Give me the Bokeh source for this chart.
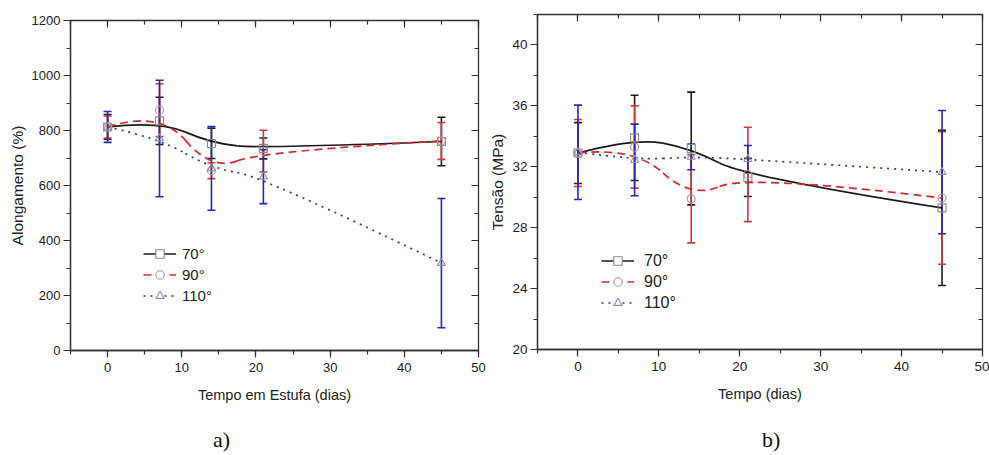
from bokeh.plotting import figure
from bokeh.layouts import row, column
from bokeh.models import (Range1d, SingleIntervalTicker, LinearAxis, Whisker, TeeHead,
                          ColumnDataSource, Legend, LegendItem, Div, CustomJSTickFormatter)
from bokeh.embed import file_html
from bokeh.resources import INLINE

# ---------------- data ----------------
dias = [0, 7, 14, 21, 45]

# a) Alongamento (%)
along_70 = [813, 835, 753, 735, 760]
along_70_err = [45, 86, 55, 38, 88]
along_90 = [813, 874, 654, 725, 762]
along_90_err = [40, 96, 29, 76, 67]
along_110 = [813, 771, 662, 632, 318]
along_110_err = [56, 212, 152, 98, 235]

# b) Tensão (MPa)
tens_70 = [32.9, 33.9, 33.2, 31.3, 29.3]
tens_70_err = [2.0, 2.8, 3.7, 1.25, 5.1]
tens_90 = [32.9, 33.3, 29.9, 31.5, 29.95]
tens_90_err = [2.2, 2.7, 2.9, 3.1, 4.35]
tens_110 = [32.95, 32.45, 32.65, 32.5, 31.65]
tens_110_err = [3.1, 2.35, 0.85, 0.9, 4.05]

labels = ["70°", "90°", "110°"]
panel_tags = ["a)", "b)"]

FONT = "Liberation Sans"
TXT = "#222222"

styles = [
    dict(line_color="#1a1a1a", line_dash="solid", err="#1e1e1e", marker="square", mcolor="#8a8a8a"),
    dict(line_color="#d42a2a", line_dash="8 5", err="#d23c3c", marker="circle", mcolor="#c48c8c"),
    dict(line_color="#3a3a7a", line_dash="2 5", err="#2828b4", marker="triangle", mcolor="#8c8cb4"),
]


def bspline_segments(xs, ys):
    # quadratic B-spline (Origin-like smoothing): bezier segments between midpoints
    n = len(xs)
    mx = [(xs[i] + xs[i + 1]) / 2 for i in range(1, n - 2)]
    my = [(ys[i] + ys[i + 1]) / 2 for i in range(1, n - 2)]
    x0 = [xs[0]] + mx
    y0 = [ys[0]] + my
    x1 = mx + [xs[-1]]
    y1 = my + [ys[-1]]
    cx = xs[1:-1]
    cy = ys[1:-1]
    return dict(x0=x0, y0=y0, x1=x1, y1=y1, cx=cx, cy=cy)


def make_panel(width, yr, yint, series, xlabel, ylabel, tick_size, min_left, min_right, min_top,
               min_bottom, legend_loc, legend_size, glyph_h, label_standoff):
    p = figure(width=width, height=420, x_range=Range1d(-5, 50), y_range=Range1d(*yr),
               output_backend="svg", toolbar_location=None,
               min_border_left=min_left, min_border_right=min_right,
               min_border_top=min_top, min_border_bottom=min_bottom)
    p.grid.visible = False
    p.outline_line_color = "#333333"
    p.outline_line_width = 1.3
    p.background_fill_color = "white"

    xt = SingleIntervalTicker(interval=10, num_minor_ticks=2)
    yt = SingleIntervalTicker(interval=yint, num_minor_ticks=2)

    xa = p.xaxis[0]
    xa.ticker = xt
    ya = p.yaxis[0]
    ya.ticker = yt
    for ax in (xa, ya):
        ax.axis_line_color = "#333333"
        ax.axis_line_width = 1.3
        ax.major_tick_line_color = "#333333"
        ax.minor_tick_line_color = "#333333"
        ax.major_tick_line_width = 1.2
        ax.minor_tick_line_width = 1.2
        ax.major_tick_out = 7
        ax.major_tick_in = 0
        ax.minor_tick_out = 4
        ax.minor_tick_in = 0
        ax.major_label_text_font = FONT
        ax.major_label_text_font_size = tick_size
        ax.major_label_text_color = TXT
        ax.axis_label_text_font = FONT
        ax.axis_label_text_font_style = "normal"
        ax.axis_label_text_color = TXT
    xa.axis_label_text_font_size = "14.5px"
    ya.axis_label_text_font_size = "15.5px"
    xa.major_label_standoff = 5
    ya.major_label_standoff = 3
    xa.axis_label = xlabel
    ya.axis_label = ylabel
    xa.axis_label_standoff = 12
    ya.axis_label_standoff = 3

    for side, tk in (("above", xt), ("right", yt)):
        ax = LinearAxis(ticker=tk, formatter=CustomJSTickFormatter(code="return ''"))
        ax.major_label_text_font_size = "1px"
        ax.major_label_standoff = 0
        ax.axis_line_color = None
        ax.major_tick_line_color = "#333333"
        ax.minor_tick_line_color = "#333333"
        ax.major_tick_line_width = 1.2
        ax.minor_tick_line_width = 1.2
        ax.major_tick_in = 7
        ax.major_tick_out = 0
        ax.minor_tick_in = 4
        ax.minor_tick_out = 0
        p.add_layout(ax, side)

    items = []
    for (vals, errs), st, lab in zip(series, styles, labels):
        seg = bspline_segments(dias, vals)
        p.quadratic(x0="x0", y0="y0", x1="x1", y1="y1", cx="cx", cy="cy",
                    source=ColumnDataSource(seg), line_color=st["line_color"],
                    line_dash=st["line_dash"], line_width=1.7)
        p.scatter(dias, vals, marker=st["marker"], size=8, fill_color=None,
                  line_color=st["mcolor"], line_width=1.1)
        src = ColumnDataSource(dict(x=dias,
                                    upper=[v + e for v, e in zip(vals, errs)],
                                    lower=[v - e for v, e in zip(vals, errs)]))
        w = Whisker(base="x", upper="upper", lower="lower", source=src,
                    line_color=st["err"], line_width=1.6,
                    upper_head=TeeHead(size=8, line_color=st["err"], line_width=1.6),
                    lower_head=TeeHead(size=8, line_color=st["err"], line_width=1.6))
        p.add_layout(w)
        # hidden renderers used only for the legend samples
        lr = p.line(dias, vals, line_color=st["line_color"], line_dash=st["line_dash"],
                    line_width=1.7, visible=False)
        mr = p.scatter(dias, vals, marker=st["marker"], fill_color="white",
                       line_color=st["mcolor"], line_width=1.1, visible=False)
        items.append(LegendItem(label=lab, renderers=[lr, mr]))

    leg = Legend(items=items, location=legend_loc, padding=0, margin=0, spacing=0,
                 glyph_width=33, glyph_height=glyph_h, label_height=glyph_h,
                 label_standoff=label_standoff, label_text_font=FONT,
                 label_text_font_size=legend_size,
                 label_text_color=TXT, background_fill_alpha=0, border_line_alpha=0,
                 inactive_fill_alpha=0)
    p.add_layout(leg)
    return p


pa = make_panel(486, (0, 1200), 200,
                [(along_70, along_70_err), (along_90, along_90_err), (along_110, along_110_err)],
                "Tempo em Estufa (dias)", "Alongamento (%)", "13px", 70, 8, 20, 70,
                (73, 44), "15px", 21, 6)
pb = make_panel(503, (20, 42), 4,
                [(tens_70, tens_70_err), (tens_90, tens_90_err), (tens_110, tens_110_err)],
                "Tempo (dias)", "Tensão (MPa)", "13.5px", 50, 7, 14, 71,
                (64, 36), "16px", 21, 10)

tag_style = {"font-family": "Liberation Serif", "font-size": "22px", "color": "#111111",
             "line-height": "26px"}
div_a = Div(text=panel_tags[0], width=40, height=26, margin=(7, 0, 0, 213), styles=tag_style)
div_b = Div(text=panel_tags[1], width=40, height=26, margin=(7, 0, 0, 509), styles=tag_style)

layout = column(row(column(pa), column(pb)), row(div_a, div_b))
open("out.html", "w").write(file_html(layout, INLINE))
